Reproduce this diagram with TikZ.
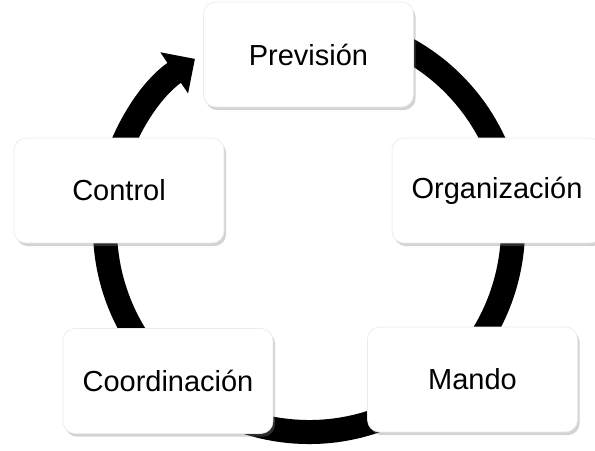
\documentclass[tikz,border=0pt]{standalone}
\usepackage{fontspec}
\setmainfont{Liberation Sans}
\usetikzlibrary{shadows}
\usetikzlibrary{arrows.meta}
\tikzset{
    etapa/.style={
           rectangle,
           rounded corners=0.24cm,
           draw=black!8, fill=white,
           minimum width=4.2cm,
           minimum height=2.1cm,
           inner sep=2pt,
           font=\fontsize{16.5}{18}\selectfont,
           text centered,
           drop shadow={shadow xshift=1.2pt, shadow yshift=-1.8pt, opacity=0.35},
           },
    anillo/.style={
                  line width=0.48cm,
                  -{Triangle[width=0.96cm, length=0.5cm]}
                  },
}

\begin{document}
\begin{tikzpicture}[x=0.02cm, y=0.02cm]
  \useasboundingbox (0,0) rectangle (595,450);
     \coordinate (centro) at (309,222);
     % ring with a soft shadow
     \draw[anillo, black!25, opacity=0.6, shift={(1.5,-2)}] (centro) ++(80:204) arc[start angle=80, end angle=-236, radius=204];
     \draw[anillo] (centro) ++(80:204) arc[start angle=80, end angle=-236, radius=204];
     \node[etapa] (prev)  at (308.5,395.5) {Previsión};
     \node[etapa] (org)   at (497,259.5)   {Organización};
     \node[etapa] (mando) at (472.5,70.5)  {Mando};
     \node[etapa] (coord) at (168,69)      {Coordinación};
     \node[etapa] (ctrl)  at (119,259.5)   {Control};
  \end{tikzpicture}
\end{document}
